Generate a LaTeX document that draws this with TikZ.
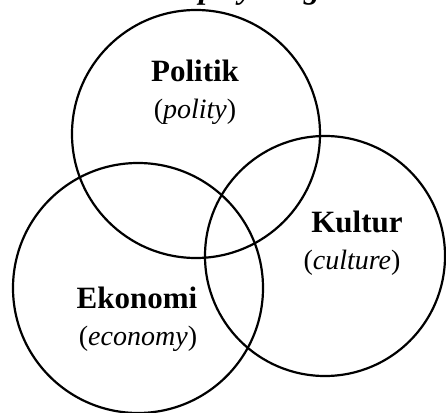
\documentclass[tikz,border=0pt]{standalone}
\usepackage{fontspec}
\setmainfont{Liberation Serif}
\begin{document}
\begin{tikzpicture}[x=1pt,y=1pt,
  ring/.style={draw=black,line width=2.2pt,circle,inner sep=0pt},
  bold/.style={anchor=base,font=\fontsize{31}{31}\selectfont\bfseries},
  ital/.style={anchor=base,font=\fontsize{28}{28}\selectfont},
  frag/.style={anchor=base,inner sep=0pt,font=\fontsize{32}{32}\selectfont\bfseries\itshape}]
\path[use as bounding box] (0,0) rectangle (446,412);
\begin{scope}
\clip (0,0) rectangle (446,412);
% circles (centre in image coords: x, 412-y)
\node[ring,minimum size=248pt] (pol) at (196,278) {};
\node[ring,minimum size=240pt] (kul) at (325,156) {};
\node[ring,minimum size=250pt] (eko) at (138,124) {};
% labels
\node[bold] (tpol) at (195,330) {Politik};
\node[ital] (spol) at (195,293) {(\textit{polity})};
\node[bold] (tkul) at (357,179) {Kultur};
\node[ital] (skul) at (352,142) {(\textit{culture})};
\node[bold] (teko) at (137,104) {Ekonomi};
\node[ital] (seko) at (138,67) {(\textit{economy})};
% cropped title fragments at top edge
\node[frag] (f1) at (207,413) {p};
\node[frag] (f2) at (246,413) {y};
\node[frag] (f3) at (312,413) {g};
\end{scope}
\end{tikzpicture}
\end{document}
